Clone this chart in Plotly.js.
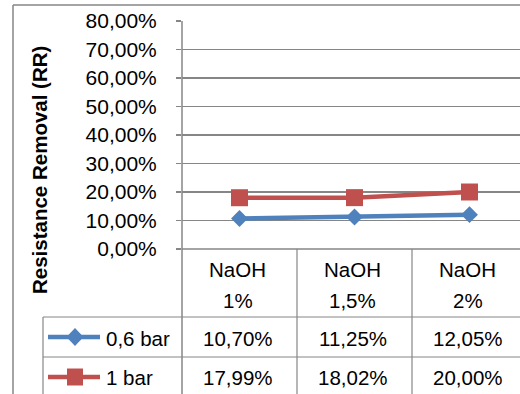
<!DOCTYPE html>
<html>
<head>
<meta charset="utf-8">
<script src="https://cdn.plot.ly/plotly-3.0.1.min.js"></script>
<style>html,body{margin:0;padding:0;background:#fff;}#chart{width:520px;height:394px;}</style>
</head>
<body>
<div id="chart"></div>
<script>
// ---- data ----
var categories = ['NaOH 1%', 'NaOH 1,5%', 'NaOH 2%'];
var seriesNames = ['0,6 bar', '1 bar'];
var series06 = [10.70, 11.25, 12.05];
var series1 = [17.99, 18.02, 20.00];
var yTitle = 'Resistance Removal (RR)';

// ---- geometry helpers (pixel -> paper) ----
var W = 520, H = 394, ML = 182, MT = 21, MB = 145, MR = 0;
var PW = W - ML - MR, PH = H - MT - MB;
function px(x) { return (x - ML) / PW; }
function py(y) { return (H - MB - y) / PH; }

var blue = '#4F81BD', red = '#C0504D', grid = '#868686';
var FONT = 'Liberation Sans, Arial, sans-serif';

function fmt(v) { return v.toFixed(2).replace('.', ',') + '%'; }

var traces = [
  { x: [0, 1, 2], y: series06, name: seriesNames[0], type: 'scatter', mode: 'lines+markers',
    line: { color: blue, width: 4.5 }, marker: { symbol: 'diamond', size: 13, color: blue },
    cliponaxis: false },
  { x: [0, 1, 2], y: series1, name: seriesNames[1], type: 'scatter', mode: 'lines+markers',
    line: { color: red, width: 4.5 }, marker: { symbol: 'square', size: 17, color: red },
    cliponaxis: false }
];

function line(x0, y0, x1, y1, w) {
  return { type: 'line', xref: 'paper', yref: 'paper', x0: px(x0), y0: py(y0), x1: px(x1), y1: py(y1),
           line: { color: grid, width: w || 1.2 }, layer: 'above' };
}
function poly(pts, color) {
  var d = pts.map(function (p, i) { return (i ? 'L' : 'M') + px(p[0]) + ',' + py(p[1]); }).join(' ') + ' Z';
  return { type: 'path', xref: 'paper', yref: 'paper', path: d, fillcolor: color, line: { color: color, width: 0 }, layer: 'above' };
}

var colX = [182, 297, 412, 527];
var shapes = [
  line(13, 5, 520, 5, 1.5),
  line(13, 5, 13, 394, 1.5),
  line(182, 21, 182, 394, 1.5),
  line(182, 249, 520, 249, 1.5),
  line(43, 317, 520, 317),
  line(43, 357, 520, 357),
  line(43, 317, 43, 394),
  line(297, 249, 297, 394),
  line(412, 249, 412, 394)
];
// legend keys
var keyY = [337, 377];
shapes.push({ type: 'line', xref: 'paper', yref: 'paper', x0: px(48), x1: px(100), y0: py(keyY[0]), y1: py(keyY[0]), line: { color: blue, width: 4.5 }, layer: 'above' });
shapes.push(poly([[75, keyY[0] - 9], [83.5, keyY[0]], [75, keyY[0] + 9], [66.5, keyY[0]]], blue));
shapes.push({ type: 'line', xref: 'paper', yref: 'paper', x0: px(48), x1: px(100), y0: py(keyY[1]), y1: py(keyY[1]), line: { color: red, width: 4.5 }, layer: 'above' });
shapes.push(poly([[67, keyY[1] - 8.5], [83, keyY[1] - 8.5], [83, keyY[1] + 8.5], [67, keyY[1] + 8.5]], red));

var annotations = [];
function txt(x, y, s, anchor, size, bold) {
  annotations.push({ xref: 'paper', yref: 'paper', x: px(x), y: py(y), text: s, showarrow: false,
    xanchor: anchor || 'center', yanchor: 'middle',
    font: { family: FONT, size: size || 20.5, color: '#000', weight: bold ? 'bold' : 'normal' } });
}
categories.forEach(function (c, i) {
  var cx = (colX[i] + colX[i + 1]) / 2 - 2;
  var parts = c.split(' ');
  txt(cx, 269, parts[0]);
  txt(cx, 300, parts[1]);
  txt(cx, 338, fmt(series06[i]));
  txt(cx, 377, fmt(series1[i]));
});
txt(104, 338, seriesNames[0], 'left');
txt(104, 377, seriesNames[1], 'left');
annotations.push({ xref: 'paper', yref: 'paper', x: px(40), y: py(170), text: yTitle, showarrow: false,
  textangle: -90, xanchor: 'center', yanchor: 'middle',
  font: { family: FONT, size: 20.5, color: '#000', weight: 'bold' } });

var layout = {
  width: W, height: H,
  margin: { l: ML, r: MR, t: MT, b: MB, pad: 0 },
  paper_bgcolor: '#fff', plot_bgcolor: '#fff',
  showlegend: false,
  separators: ', ',
  xaxis: { range: [-0.5, -0.5 + PW / 115], showgrid: false, zeroline: false, showline: false,
           showticklabels: false, ticks: '', fixedrange: true },
  yaxis: { range: [0, 80], dtick: 10, tickformat: '.2f', ticksuffix: '%',
           showgrid: true, gridcolor: grid, gridwidth: 1.2, zeroline: false,
           showline: false, ticks: 'outside', ticklen: 5, tickcolor: grid, tickwidth: 1.2,
           ticklabelstandoff: 15,
           tickfont: { family: FONT, size: 21, color: '#000' } },
  shapes: shapes,
  annotations: annotations
};

Plotly.newPlot('chart', traces, layout, { staticPlot: true, displayModeBar: false });
</script>
</body>
</html>
